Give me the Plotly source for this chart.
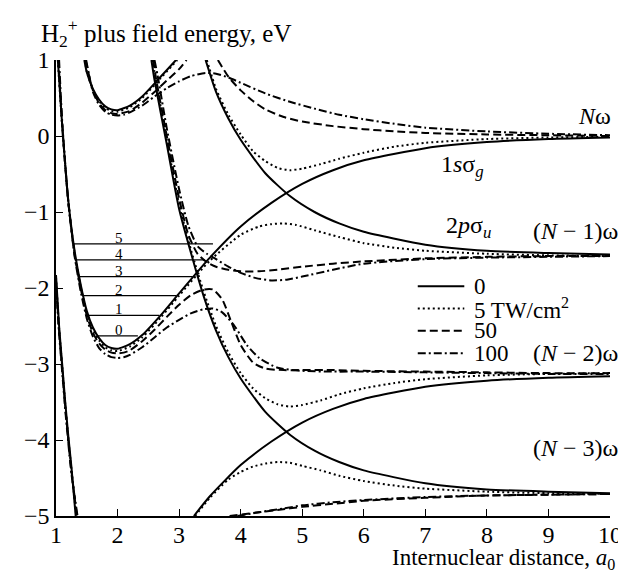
import plotly.graph_objects as go

# ---------------- data ----------------
# field-free curves (solid, intensity 0)
g0_x = [1.03, 1.1, 1.2, 1.3, 1.4, 1.5, 1.6, 1.7, 1.8, 1.9, 2.0, 2.2, 2.4, 2.7, 3.0, 3.5, 4.0, 4.5, 5.0, 5.5, 6.0, 7.0, 8.0, 9.0, 10.0]
g0_y = [1.0, 0.15, -0.85, -1.5, -1.95, -2.3, -2.52, -2.66, -2.75, -2.79, -2.8, -2.74, -2.62, -2.36, -2.07, -1.6, -1.19, -0.88, -0.63, -0.45, -0.32, -0.16, -0.08, -0.04, -0.02]
gp2_x = [1.46, 1.5, 1.6, 1.7, 1.8, 1.9, 2.0, 2.2, 2.4, 2.7, 2.95]
gp2_y = [1.0, 0.84, 0.62, 0.48, 0.39, 0.35, 0.34, 0.4, 0.52, 0.78, 1.0]
gm2a_x = [1.0, 1.05, 1.1, 1.15, 1.2, 1.25, 1.32]
gm2a_y = [-1.83, -2.5, -3.0, -3.5, -3.95, -4.35, -5.0]
gm2b_x = [3.24, 3.5, 4.0, 4.5, 5.0, 5.5, 6.0, 7.0, 8.0, 9.0, 10.0]
gm2b_y = [-5.0, -4.74, -4.33, -4.02, -3.77, -3.59, -3.46, -3.3, -3.22, -3.18, -3.16]
u1_x = [3.43, 3.6, 3.8, 4.0, 4.4, 4.8, 5.2, 5.6, 6.0, 7.0, 8.0, 9.0, 10.0]
u1_y = [1.0, 0.58, 0.23, -0.05, -0.49, -0.79, -1.0, -1.15, -1.26, -1.43, -1.51, -1.54, -1.56]
u3_x = [2.55, 2.6, 2.8, 3.0, 3.2, 3.4, 3.6, 3.8, 4.0, 4.4, 4.8, 5.2, 5.6, 6.0, 7.0, 8.0, 9.0, 10.0]
u3_y = [1.0, 0.74, -0.11, -0.96, -1.56, -2.11, -2.56, -2.91, -3.19, -3.63, -3.93, -4.14, -4.29, -4.4, -4.57, -4.65, -4.68, -4.7]

# 5 TW/cm2 (dotted)
d_gp2_x = [1.47, 1.5, 1.6, 1.7, 1.8, 1.9, 2.0, 2.2, 2.4, 2.7, 2.97]
d_gp2_y = [1.0, 0.85, 0.61, 0.46, 0.37, 0.33, 0.32, 0.38, 0.5, 0.76, 1.0]
d_up_x = [3.45, 3.6, 3.8, 4.0, 4.2, 4.4, 4.6, 4.8, 5.0, 5.3, 5.6, 6.0, 6.5, 7.0, 8.0, 9.0, 10.0]
d_up_y = [1.0, 0.62, 0.28, 0.02, -0.2, -0.33, -0.42, -0.45, -0.43, -0.37, -0.3, -0.22, -0.14, -0.09, -0.04, -0.02, -0.01]
d_g0_x = [1.03, 1.1, 1.2, 1.3, 1.4, 1.5, 1.6, 1.7, 1.8, 1.9, 2.0, 2.2, 2.4, 2.7, 3.0, 3.5, 4.0, 4.3, 4.5, 4.7, 4.9, 5.2, 5.6, 6.0, 6.5, 7.0, 8.0, 9.0, 10.0]
d_g0_y = [1.0, 0.13, -0.87, -1.53, -1.98, -2.33, -2.55, -2.69, -2.78, -2.82, -2.83, -2.77, -2.65, -2.39, -2.1, -1.64, -1.3, -1.19, -1.16, -1.15, -1.17, -1.24, -1.33, -1.41, -1.47, -1.51, -1.55, -1.57, -1.58]
d_u3_x = [2.57, 2.62, 2.8, 3.0, 3.2, 3.4, 3.6, 3.8, 4.0, 4.2, 4.4, 4.6, 4.8, 5.0, 5.3, 5.6, 6.0, 6.5, 7.0, 8.0, 9.0, 10.0]
d_u3_y = [1.0, 0.74, -0.05, -0.9, -1.52, -2.05, -2.5, -2.85, -3.12, -3.32, -3.45, -3.53, -3.56, -3.54, -3.48, -3.4, -3.32, -3.25, -3.2, -3.15, -3.13, -3.12]
d_gm2b_x = [3.26, 3.5, 3.8, 4.0, 4.2, 4.4, 4.6, 4.8, 5.0, 5.3, 5.6, 6.0, 6.5, 7.0, 8.0, 9.0, 10.0]
d_gm2b_y = [-5.0, -4.76, -4.52, -4.42, -4.35, -4.31, -4.29, -4.3, -4.34, -4.4, -4.47, -4.54, -4.6, -4.64, -4.68, -4.7, -4.71]
d_gm2a_x = [1.0, 1.05, 1.1, 1.15, 1.2, 1.25, 1.33]
d_gm2a_y = [-1.86, -2.53, -3.03, -3.53, -3.98, -4.38, -5.0]

# 50 TW/cm2 (dashed)
a_gp2_x = [1.48, 1.6, 1.7, 1.8, 1.9, 2.0, 2.2, 2.4, 2.6, 2.8, 3.0, 3.12]
a_gp2_y = [1.0, 0.6, 0.43, 0.34, 0.3, 0.29, 0.33, 0.44, 0.58, 0.73, 0.88, 1.0]
a_up_x = [3.63, 3.8, 4.0, 4.2, 4.4, 4.7, 5.0, 5.5, 6.0, 6.5, 7.0, 8.0, 9.0, 10.0]
a_up_y = [1.0, 0.78, 0.6, 0.46, 0.35, 0.25, 0.19, 0.13, 0.09, 0.06, 0.04, 0.02, 0.01, 0.0]
a_g0_x = [1.04, 1.1, 1.2, 1.3, 1.4, 1.5, 1.6, 1.7, 1.8, 1.9, 2.0, 2.1, 2.2, 2.4, 2.6, 2.8, 3.0, 3.2, 3.4, 3.55, 3.7, 3.85, 4.0, 4.2, 4.4, 4.7, 5.0, 5.5, 6.0, 7.0, 8.0, 9.0, 10.0]
a_g0_y = [1.0, 0.15, -0.87, -1.55, -2.0, -2.36, -2.59, -2.73, -2.81, -2.85, -2.86, -2.85, -2.82, -2.7, -2.55, -2.38, -2.22, -2.09, -2.02, -2.02, -2.15, -2.45, -2.75, -2.98, -3.06, -3.08, -3.08, -3.08, -3.09, -3.1, -3.11, -3.12, -3.12]
a_u3_x = [2.58, 2.62, 2.8, 3.0, 3.15, 3.3, 3.45, 3.6, 3.8, 4.0, 4.3, 4.6, 5.0, 5.5, 6.0, 7.0, 8.0, 9.0, 10.0]
a_u3_y = [1.0, 0.78, 0.0, -0.82, -1.3, -1.55, -1.66, -1.72, -1.76, -1.78, -1.78, -1.76, -1.72, -1.68, -1.65, -1.61, -1.59, -1.58, -1.58]
a_bot_x = [3.82, 4.2, 4.6, 5.0, 5.5, 6.0, 7.0, 8.0, 9.0, 10.0]
a_bot_y = [-5.0, -4.96, -4.92, -4.88, -4.84, -4.8, -4.76, -4.73, -4.72, -4.71]
a_gm2a_x = [1.0, 1.05, 1.1, 1.15, 1.2, 1.25, 1.34]
a_gm2a_y = [-1.9, -2.56, -3.06, -3.56, -4.0, -4.4, -5.0]

# 100 TW/cm2 (dash-dot)
b_gp2_x = [1.49, 1.6, 1.7, 1.8, 1.9, 2.0, 2.1, 2.2, 2.4, 2.6, 2.8, 3.0, 3.2, 3.43, 3.6, 3.8, 4.0, 4.4, 4.8, 5.2, 5.6, 6.0, 6.5, 7.0, 8.0, 9.0, 10.0]
b_gp2_y = [1.0, 0.58, 0.41, 0.32, 0.28, 0.27, 0.28, 0.31, 0.4, 0.52, 0.63, 0.72, 0.79, 0.83, 0.82, 0.77, 0.7, 0.56, 0.45, 0.36, 0.28, 0.22, 0.16, 0.11, 0.06, 0.03, 0.01]
b_g0_x = [1.05, 1.1, 1.2, 1.3, 1.4, 1.5, 1.6, 1.7, 1.8, 1.9, 2.0, 2.1, 2.2, 2.4, 2.6, 2.8, 3.0, 3.2, 3.4, 3.55, 3.7, 3.9, 4.1, 4.3, 4.6, 5.0, 5.5, 6.0, 7.0, 8.0, 9.0, 10.0]
b_g0_y = [1.0, 0.2, -0.87, -1.57, -2.04, -2.4, -2.64, -2.79, -2.87, -2.91, -2.92, -2.91, -2.88, -2.78, -2.65, -2.52, -2.42, -2.33, -2.28, -2.27, -2.32, -2.5, -2.75, -2.92, -3.05, -3.09, -3.1, -3.1, -3.11, -3.12, -3.13, -3.13]
b_u3_x = [2.6, 2.65, 2.8, 3.0, 3.15, 3.3, 3.45, 3.6, 3.8, 4.0, 4.25, 4.5, 4.75, 5.0, 5.5, 6.0, 7.0, 8.0, 9.0, 10.0]
b_u3_y = [1.0, 0.8, 0.1, -0.7, -1.18, -1.45, -1.55, -1.62, -1.72, -1.8, -1.87, -1.9, -1.89, -1.85, -1.76, -1.68, -1.62, -1.6, -1.59, -1.58]
b_bot_x = [3.95, 4.3, 4.7, 5.0, 5.5, 6.0, 7.0, 8.0, 9.0, 10.0]
b_bot_y = [-5.0, -4.95, -4.9, -4.86, -4.82, -4.79, -4.75, -4.73, -4.72, -4.71]
b_gm2a_x = [1.0, 1.05, 1.1, 1.15, 1.2, 1.25, 1.35]
b_gm2a_y = [-1.95, -2.6, -3.1, -3.6, -4.04, -4.44, -5.0]

# vibrational levels of the field-free well
lev_v = ["0", "1", "2", "3", "4", "5"]
lev_E = [-2.63, -2.36, -2.10, -1.85, -1.63, -1.42]
lev_xl = [1.68, 1.5, 1.43, 1.38, 1.33, 1.29]
lev_xr = [2.33, 2.68, 2.95, 3.22, 3.42, 3.55]

# legend entries (intensities)
names = ["0", "5 TW/cm<sup>2</sup>", "50", "100"]
dashes = ["solid", "2px,3px", "8px,4px", "8px,3px,2px,3px"]

FONT = "Liberation Serif"
BLACK = "black"
fig = go.Figure()

def add(x, y, dash):
    fig.add_trace(go.Scatter(
        x=x, y=y, mode="lines",
        line=dict(color=BLACK, width=2, dash=dash, shape="spline", smoothing=0.6),
        showlegend=False, hoverinfo="skip"))

solid_curves = [(g0_x, g0_y), (gp2_x, gp2_y), (gm2a_x, gm2a_y), (gm2b_x, gm2b_y), (u1_x, u1_y), (u3_x, u3_y)]
dot_curves = [(d_g0_x, d_g0_y), (d_gp2_x, d_gp2_y), (d_up_x, d_up_y), (d_u3_x, d_u3_y), (d_gm2b_x, d_gm2b_y), (d_gm2a_x, d_gm2a_y)]
dash_curves = [(a_g0_x, a_g0_y), (a_gp2_x, a_gp2_y), (a_up_x, a_up_y), (a_u3_x, a_u3_y), (a_bot_x, a_bot_y), (a_gm2a_x, a_gm2a_y)]
dd_curves = [(b_g0_x, b_g0_y), (b_gp2_x, b_gp2_y), (b_u3_x, b_u3_y), (b_bot_x, b_bot_y), (b_gm2a_x, b_gm2a_y)]

for group, dash in zip([solid_curves, dot_curves, dash_curves, dd_curves], dashes):
    for xx, yy in group:
        add(xx, yy, dash)

# vibrational levels
for v, e, xl, xr in zip(lev_v, lev_E, lev_xl, lev_xr):
    fig.add_trace(go.Scatter(x=[xl, xr], y=[e, e], mode="lines",
                             line=dict(color=BLACK, width=1.3),
                             showlegend=False, hoverinfo="skip"))
    fig.add_annotation(x=2.02, y=e, text=v, showarrow=False, yanchor="bottom",
                       yshift=-3, borderpad=0, font=dict(family=FONT, size=15, color=BLACK))

# legend drawn in the plot (line samples + labels)
leg_y0, leg_dy = 0.504, 0.049
for i, (nm, dsh) in enumerate(zip(names, dashes)):
    yy = leg_y0 - i * leg_dy
    fig.add_shape(type="line", xref="paper", yref="paper", x0=0.653, x1=0.737, y0=yy, y1=yy,
                  line=dict(color=BLACK, width=2, dash=dsh))
    fig.add_annotation(xref="paper", yref="paper", x=0.752, y=yy, text=nm, showarrow=False,
                       xanchor="left", yanchor="middle", borderpad=0,
                       font=dict(family=FONT, size=23, color=BLACK))

# curve / asymptote labels
lab_font = dict(family=FONT, size=24, color=BLACK)
fig.add_annotation(x=10, y=0.0, text="<i>N</i>ω", showarrow=False, xanchor="right",
                   yanchor="middle", xshift=3, yshift=20, font=lab_font)
fig.add_annotation(x=7.6, y=-0.39, text="1<i>s</i>σ<sub><i>g</i></sub>", showarrow=False,
                   font=lab_font)
fig.add_annotation(x=7.7, y=-1.2, text="2<i>p</i>σ<sub><i>u</i></sub>", showarrow=False,
                   font=lab_font)
fig.add_annotation(x=10, y=-1.57, text="(<i>N</i> − 1)ω", showarrow=False, xanchor="right",
                   yanchor="middle", xshift=10, yshift=24, font=lab_font)
fig.add_annotation(x=10, y=-3.14, text="(<i>N</i> − 2)ω", showarrow=False, xanchor="right",
                   yanchor="middle", xshift=10, yshift=22, font=lab_font)
fig.add_annotation(x=10, y=-4.7, text="(<i>N</i> − 3)ω", showarrow=False, xanchor="right",
                   yanchor="middle", xshift=10, yshift=45, font=lab_font)

# axis titles
fig.add_annotation(xref="paper", yref="paper", x=-0.03, y=1.0, yshift=27, xanchor="left",
                   yanchor="middle", text="H<sub>2</sub><sup>+</sup> plus field energy, eV",
                   showarrow=False, font=dict(family=FONT, size=25, color=BLACK))
fig.add_annotation(xref="paper", yref="paper", x=1.01, y=0, yshift=-58, xanchor="right",
                   yanchor="bottom", borderpad=0, text="Internuclear distance, <i>a</i><sub>0</sub>",
                   showarrow=False, font=dict(family=FONT, size=23, color=BLACK))

axis_common = dict(showgrid=False, zeroline=False, showline=True, linecolor=BLACK,
                   linewidth=1.5, ticks="inside", ticklen=7, tickwidth=1.3, tickcolor=BLACK,
                   tickfont=dict(family=FONT, size=24, color=BLACK))
fig.update_layout(
    width=626, height=571,
    margin=dict(l=48, r=16, t=52, b=63),
    paper_bgcolor="white", plot_bgcolor="white",
    font=dict(family=FONT, size=24, color=BLACK),
    showlegend=False,
    xaxis=dict(range=[1, 10], tickvals=list(range(1, 11)), ticklabelstandoff=-4, **axis_common),
    yaxis=dict(range=[-5, 1], tickvals=list(range(-5, 2)), **axis_common),
)

fig.write_html("out.html")
